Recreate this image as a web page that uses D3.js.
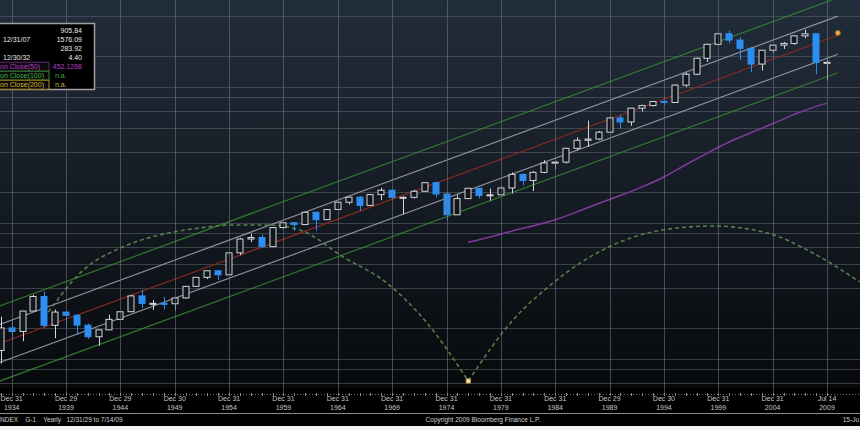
<!DOCTYPE html>
<html>
<head>
<meta charset="utf-8">
<script src="https://cdn.jsdelivr.net/npm/d3@7/dist/d3.min.js"></script>
<style>
  body { margin: 0; background: #f2f2f2; }
  svg { display: block; font-family: "Liberation Sans", Arial, sans-serif; }
</style>
</head>
<body>
<svg id="chart" width="860" height="430"></svg>
<script>
// yearly bars, 12/31/29 to 7/14/09 (last bar is partial)
const years = [1929, 1930, 1931, 1932, 1933, 1934, 1935, 1936, 1937, 1938,
  1939, 1940, 1941, 1942, 1943, 1944, 1945, 1946, 1947, 1948,
  1949, 1950, 1951, 1952, 1953, 1954, 1955, 1956, 1957, 1958,
  1959, 1960, 1961, 1962, 1963, 1964, 1965, 1966, 1967, 1968,
  1969, 1970, 1971, 1972, 1973, 1974, 1975, 1976, 1977, 1978,
  1979, 1980, 1981, 1982, 1983, 1984, 1985, 1986, 1987, 1988,
  1989, 1990, 1991, 1992, 1993, 1994, 1995, 1996, 1997, 1998,
  1999, 2000, 2001, 2002, 2003, 2004, 2005, 2006, 2007, 2008, 2009];
const opens = [24.35, 21.45, 15.34, 8.12, 6.89, 10.10, 9.50, 13.43, 17.18, 10.55,
  13.21, 12.49, 10.58, 8.69, 9.77, 11.67, 13.28, 17.36, 15.30, 15.30,
  15.20, 16.76, 20.41, 23.77, 26.57, 24.81, 35.98, 45.48, 46.67, 39.99,
  55.21, 59.89, 58.11, 71.55, 63.10, 75.02, 84.75, 92.43, 80.33, 96.47,
  103.86, 92.06, 92.15, 102.09, 118.05, 97.55, 68.56, 90.19, 107.46, 95.10,
  96.11, 107.94, 135.76, 122.55, 140.64, 164.93, 167.24, 211.28, 242.17, 247.08,
  277.72, 353.40, 330.22, 417.09, 435.71, 466.45, 459.27, 615.93, 740.74, 970.43,
  1229.23, 1469.25, 1320.28, 1148.08, 879.82, 1111.92, 1211.92, 1248.29, 1418.30, 1468.36, 903.25];
const highs = [31.86, 25.92, 18.17, 9.31, 12.20, 11.82, 13.46, 17.69, 18.68, 13.79,
  13.23, 12.77, 10.86, 9.77, 12.64, 13.29, 17.68, 19.25, 16.20, 17.06,
  16.79, 20.43, 23.85, 26.59, 26.66, 35.98, 46.41, 49.74, 49.13, 55.21,
  60.71, 60.39, 72.64, 71.55, 75.02, 86.28, 92.63, 94.06, 97.59, 108.37,
  106.16, 93.46, 104.77, 119.12, 120.24, 99.80, 95.61, 107.83, 107.97, 106.99,
  111.27, 140.52, 138.12, 143.02, 172.65, 170.41, 212.02, 254.00, 337.89, 283.66,
  359.80, 369.78, 418.32, 442.65, 471.29, 482.85, 622.88, 761.75, 983.79, 1241.81,
  1473.10, 1552.87, 1383.37, 1176.97, 1112.56, 1217.33, 1275.80, 1431.81, 1576.09, 1471.77, 956.23];
const lows = [17.66, 14.44, 7.72, 4.40, 5.53, 8.36, 8.06, 13.40, 10.17, 8.50,
  10.18, 8.99, 8.37, 7.47, 9.77, 11.56, 13.21, 14.12, 13.71, 13.84,
  13.55, 16.65, 20.41, 23.09, 22.71, 24.80, 34.58, 43.11, 38.98, 39.99,
  53.58, 52.20, 57.57, 52.32, 62.69, 75.02, 81.60, 73.20, 80.33, 87.72,
  89.20, 69.29, 90.16, 101.67, 92.16, 62.28, 68.56, 90.19, 90.71, 86.90,
  96.11, 98.22, 112.77, 102.42, 138.34, 147.82, 163.36, 203.49, 216.46, 242.63,
  275.31, 294.51, 309.35, 394.50, 429.05, 435.86, 459.14, 597.29, 729.55, 912.83,
  1205.46, 1254.07, 944.75, 768.63, 788.90, 1060.72, 1136.15, 1219.29, 1363.98, 741.02, 666.79];
const closes = [21.45, 15.34, 8.12, 6.89, 10.10, 9.50, 13.43, 17.18, 10.55, 13.21,
  12.49, 10.58, 8.69, 9.77, 11.67, 13.28, 17.36, 15.30, 15.30, 15.20,
  16.76, 20.41, 23.77, 26.57, 24.81, 35.98, 45.48, 46.67, 39.99, 55.21,
  59.89, 58.11, 71.55, 63.10, 75.02, 84.75, 92.43, 80.33, 96.47, 103.86,
  92.06, 92.15, 102.09, 118.05, 97.55, 68.56, 90.19, 107.46, 95.10, 96.11,
  107.94, 135.76, 122.55, 140.64, 164.93, 167.24, 211.28, 242.17, 247.08, 277.72,
  353.40, 330.22, 417.09, 435.71, 466.45, 459.27, 615.93, 740.74, 970.43, 1229.23,
  1469.25, 1320.28, 1148.08, 879.82, 1111.92, 1211.92, 1248.29, 1418.30, 1468.36, 903.25, 905.84];

// moving average on close(50)
const maYears  = [1976, 1978, 1980, 1982, 1984, 1986, 1988, 1990, 1992, 1994, 1996, 1998, 2000, 2002, 2004, 2006, 2008, 2009];
const maValues = [43, 47, 52, 57, 63, 72, 83, 95, 110, 130, 160, 195, 235, 275, 320, 375, 430, 452];

// regression channel (start 1929, end 2010)
const channelNames  = ["+2sd", "+1sd", "trend", "-1sd", "-2sd"];
const channelStart  = [11.23, 8.21, 5.95, 4.31, 3.15];
const channelEnd    = [2706, 1979, 1434, 1039, 760];
const channelColors = ["#3a8f34", "#a9adb8", "#8a2a22", "#a9adb8", "#3a8f34"];

// dashed cycle curve, two arcs meeting at the 1976 low
const cycleYearsA  = [1937.0, 1940.6, 1944.2, 1947.6, 1951.3, 1954.4, 1957.5, 1960.5, 1964.5, 1968.5, 1972.2, 1976];
const cycleValuesA = [12.0, 26.9, 39.7, 48.7, 54.8, 57.7, 57.7, 53, 33.6, 21.6, 11.0, 4.11];
const cycleYearsB  = [1976, 1980.1, 1983.8, 1986.3, 1989.3, 1993.9, 1998.5, 2003.5, 2007.7, 2012.0];
const cycleValuesB = [4.11, 11.5, 21.6, 30.3, 41.1, 53, 56.7, 50.4, 35.9, 22];

// x axis
const tickYears = [1934, 1939, 1944, 1949, 1954, 1959, 1964, 1969, 1974, 1979, 1984, 1989, 1994, 1999, 2004, 2009];
const tickDates = ["Dec 31", "Dec 29", "Dec 29", "Dec 30", "Dec 31", "Dec 31", "Dec 31", "Dec 31", "Dec 31", "Dec 31",
  "Dec 31", "Dec 29", "Dec 30", "Dec 31", "Dec 31", "Jul 14"];
const gridValues = [4, 5, 6, 10, 20, 30, 40, 50, 60, 100, 200, 300, 400, 500, 600, 1000, 2000];

const W = 860, plotBottom = 388;
const svg = d3.select("#chart");

// bar positions are evenly spaced, one per year
const x = d3.scaleLinear().domain([1929, 2009]).range([-42.7, 827.0]);
const y = d3.scaleLog().domain([3.65, 2603]).range([plotBottom, 0]);

const defs = svg.append("defs");
const grad = defs.append("linearGradient").attr("id", "bg").attr("x1", 0).attr("y1", 0).attr("x2", 0).attr("y2", 1);
grad.append("stop").attr("offset", "0%").attr("stop-color", "#222d3b");
grad.append("stop").attr("offset", "55%").attr("stop-color", "#141a22");
grad.append("stop").attr("offset", "100%").attr("stop-color", "#07090c");
defs.append("clipPath").attr("id", "plotclip").append("rect")
  .attr("x", 0).attr("y", 0).attr("width", W).attr("height", plotBottom);
const glow = defs.append("radialGradient").attr("id", "glow");
glow.append("stop").attr("offset", "0%").attr("stop-color", "#ffd27a");
glow.append("stop").attr("offset", "45%").attr("stop-color", "#e89a38");
glow.append("stop").attr("offset", "100%").attr("stop-color", "#e89a38").attr("stop-opacity", 0);

// background
svg.append("rect").attr("width", W).attr("height", plotBottom).attr("fill", "url(#bg)");
svg.append("rect").attr("y", plotBottom).attr("width", W).attr("height", 426 - plotBottom).attr("fill", "#000");

const plot = svg.append("g").attr("clip-path", "url(#plotclip)");

// grid
plot.append("g").selectAll("line").data(gridValues).enter().append("line")
  .attr("x1", 0).attr("x2", W)
  .attr("y1", d => Math.round(y(d)) + 0.5).attr("y2", d => Math.round(y(d)) + 0.5)
  .attr("stroke", "#5d6670").attr("stroke-opacity", 0.55).attr("stroke-width", 1);
svg.append("g").selectAll("line").data(tickYears).enter().append("line")
  .attr("x1", d => Math.round(x(d)) + 0.5).attr("x2", d => Math.round(x(d)) + 0.5)
  .attr("y1", 0).attr("y2", 394)
  .attr("stroke", "#6a737c").attr("stroke-opacity", 0.6).attr("stroke-width", 1);

// regression channel
const channel = channelNames.map((n, i) => ({ name: n, s: channelStart[i], e: channelEnd[i], c: channelColors[i] }));
plot.append("g").selectAll("line").data(channel).enter().append("line")
  .attr("x1", x(1929)).attr("y1", d => y(d.s))
  .attr("x2", x(2010)).attr("y2", d => y(d.e))
  .attr("stroke", d => d.c)
  .attr("stroke-opacity", d => d.name === "trend" ? 0.95 : 0.8)
  .attr("stroke-width", 1.2);

// cycle curve
const cycleLine = d3.line().x(d => x(d[0])).y(d => y(d[1])).curve(d3.curveMonotoneX);
[[cycleYearsA, cycleValuesA], [cycleYearsB, cycleValuesB]].forEach(seg => {
  plot.append("path")
    .datum(seg[0].map((yr, i) => [yr, seg[1][i]]))
    .attr("d", cycleLine)
    .attr("fill", "none")
    .attr("stroke", "#5f8a4e")
    .attr("stroke-opacity", 0.9)
    .attr("stroke-width", 1.6)
    .attr("stroke-dasharray", "4,3");
});
plot.append("rect")
  .attr("x", x(1976) - 2).attr("y", y(4.11) - 2).attr("width", 4).attr("height", 4)
  .attr("fill", "#f4ecc8").attr("stroke", "#c9a64a").attr("stroke-width", 1);

// moving average
plot.append("path")
  .datum(maYears.map((yr, i) => [yr, maValues[i]]))
  .attr("d", d3.line().x(d => x(d[0])).y(d => y(d[1])).curve(d3.curveMonotoneX))
  .attr("fill", "none").attr("stroke", "#803a9c").attr("stroke-width", 1.5);

// candles
const bars = years.map((yr, i) => ({ yr: yr, o: opens[i], h: highs[i], l: lows[i], c: closes[i] }));
const upCol = "#d4d6dc", downCol = "#2d8ef2", bw = 7;
const cg = plot.append("g").selectAll("g").data(bars).enter().append("g");
cg.append("line")
  .attr("x1", d => Math.round(x(d.yr)) + 0.5).attr("x2", d => Math.round(x(d.yr)) + 0.5)
  .attr("y1", d => y(d.h)).attr("y2", d => y(d.l))
  .attr("stroke", d => d.c < d.o ? downCol : upCol).attr("stroke-width", 1);
cg.append("rect")
  .attr("x", d => Math.round(x(d.yr)) - bw / 2 + 0.5)
  .attr("y", d => y(Math.max(d.o, d.c)))
  .attr("width", bw - 1)
  .attr("height", d => Math.max(1, y(Math.min(d.o, d.c)) - y(Math.max(d.o, d.c))))
  .attr("fill", d => d.c < d.o ? downCol : "#11161d")
  .attr("stroke", d => d.c < d.o ? downCol : upCol)
  .attr("stroke-width", 1);

// marker past the last bar
plot.append("circle").attr("cx", x(2010)).attr("cy", y(1490)).attr("r", 3.5).attr("fill", "url(#glow)");

// x axis
svg.append("line").attr("x1", 0).attr("x2", W).attr("y1", 394.5).attr("y2", 394.5)
  .attr("stroke", "#6e6e6e").attr("stroke-dasharray", "1,2");
svg.append("g").selectAll("line").data(years).enter().append("line")
  .attr("x1", d => Math.round(x(d)) + 0.5).attr("x2", d => Math.round(x(d)) + 0.5)
  .attr("y1", 393).attr("y2", 396).attr("stroke", "#8a8a8a");
const tl = svg.append("g").selectAll("g").data(tickYears).enter().append("g")
  .attr("transform", d => `translate(${x(d)},0)`);
tl.append("text").attr("y", 401).attr("text-anchor", "middle")
  .attr("font-size", 7).attr("fill", "#c4c4c4").text((d, i) => tickDates[i]);
tl.append("text").attr("y", 410).attr("text-anchor", "middle")
  .attr("font-size", 7).attr("fill", "#c4c4c4").text(d => d);
svg.append("line").attr("x1", 0).attr("x2", W).attr("y1", 413.5).attr("y2", 413.5).attr("stroke", "#8c8c8c");

// footer
svg.append("text").attr("x", 0).attr("y", 422).attr("font-size", 6.5).attr("fill", "#cfcfcf")
  .attr("xml:space", "preserve").text("NDEX    G-1    Yearly   12/31/29 to 7/14/09");
svg.append("text").attr("x", 483).attr("y", 422).attr("font-size", 6.5).attr("fill", "#cfcfcf")
  .attr("text-anchor", "middle").text("Copyright 2009 Bloomberg Finance L.P.");
svg.append("text").attr("x", 859).attr("y", 422).attr("font-size", 6.5).attr("fill", "#cfcfcf")
  .attr("text-anchor", "end").text("15-Ju");
svg.append("rect").attr("y", 426).attr("width", W).attr("height", 4).attr("fill", "#f2f2f2");

// legend
const leg = svg.append("g");
leg.append("rect").attr("x", -2).attr("y", 23.5).attr("width", 96.5).attr("height", 66)
  .attr("fill", "#000").attr("stroke", "#a0a0a0").attr("stroke-width", 1.5);
const legLeft   = ["", "12/31/07", "", "12/30/32", "on Close(50)", "on Close(100)", "on Close(200)"];
const legRight  = ["905.84", "1576.09", "283.92", "4.40", "452.1268", "n.a.", "n.a."];
const legColors = ["#e8e8e8", "#e8e8e8", "#e8e8e8", "#e8e8e8", "#b43cc8", "#3cb43c", "#d8b428"];
const legBoxes  = [null, null, null, null, "#6a1f78", "#2c8a2c", "#a88a1c"];
legLeft.forEach((t, i) => {
  const yy = 30.7 + i * 9;
  if (legBoxes[i]) {
    leg.append("rect").attr("x", -1).attr("y", yy - 4.5).attr("width", 50).attr("height", 9)
      .attr("fill", "#0a0a0a").attr("stroke", legBoxes[i]).attr("stroke-width", 1);
  }
  leg.append("text").attr("x", i < 4 ? 3 : 0).attr("y", yy + 2.5).attr("font-size", 7)
    .attr("fill", legColors[i]).text(t);
  leg.append("text").attr("x", i < 5 ? 82 : 55).attr("y", yy + 2.5).attr("font-size", 7)
    .attr("text-anchor", i < 5 ? "end" : "start").attr("fill", legColors[i]).text(legRight[i]);
});
</script>
</body>
</html>
